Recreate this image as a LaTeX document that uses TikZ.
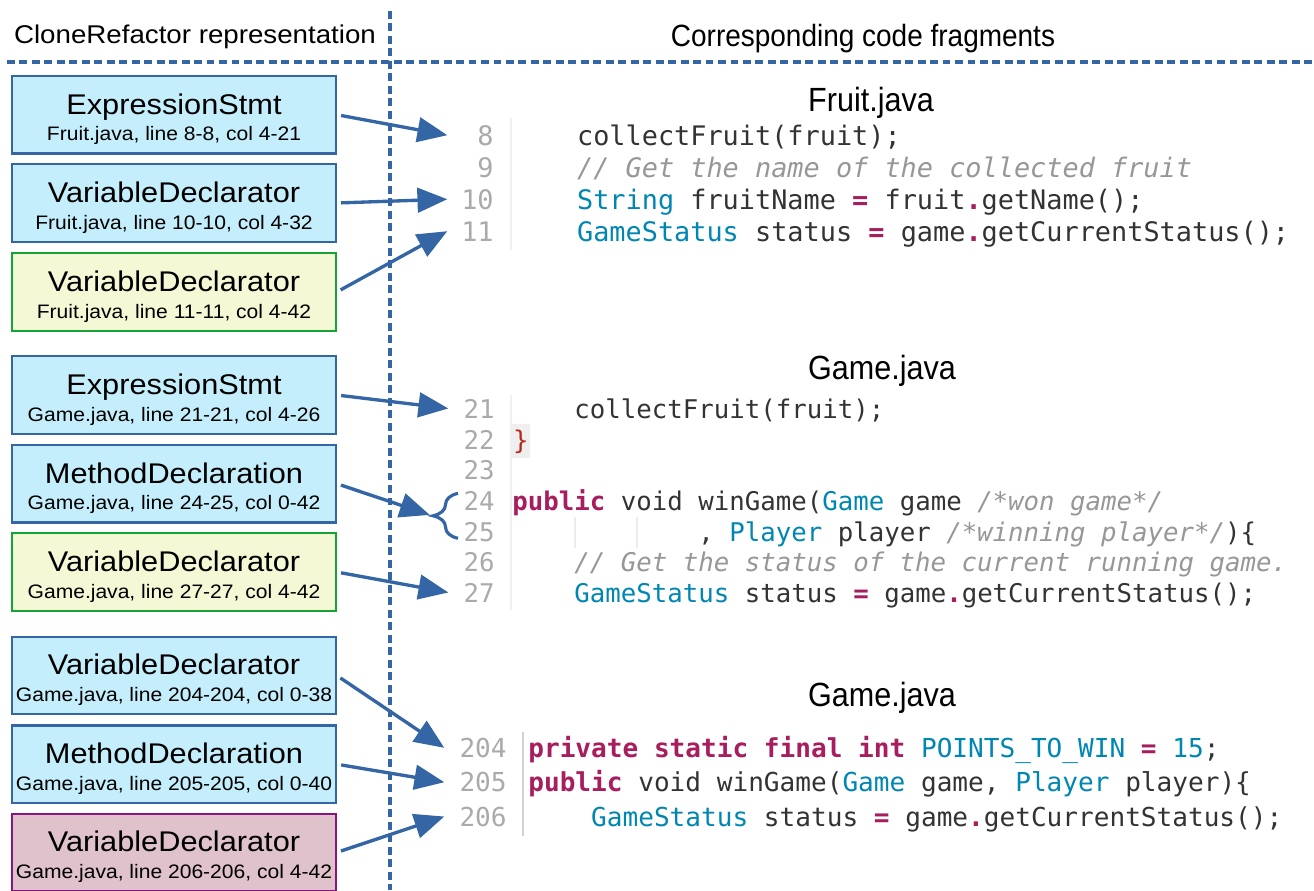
\documentclass[tikz,border=0pt]{standalone}
\usepackage{fontspec}
\setmainfont{Liberation Sans}
\newfontfamily\leftfont[FakeStretch=1.08]{Liberation Sans}
\newfontfamily\rightfont[FakeStretch=0.91]{Liberation Sans}
\newfontfamily\codefont{DejaVu Sans Mono}
\usepackage{xcolor}
\usepackage{tikz}
\usetikzlibrary{arrows.meta, decorations.pathreplacing}

\definecolor{linkblue}{HTML}{3465A4}
\definecolor{astfill}{HTML}{C4EEFB}
\definecolor{clonegreen}{HTML}{16A534}
\definecolor{clonefill}{HTML}{F5F8D5}
\definecolor{diffpurple}{HTML}{87157F}
\definecolor{difffill}{HTML}{E0C2CD}
\definecolor{kwcol}{HTML}{A71D5D}
\definecolor{tycol}{HTML}{0086B3}
\definecolor{cmtcol}{HTML}{969896}
\definecolor{codetext}{HTML}{333333}
\definecolor{lncol}{HTML}{AAAAAA}
\definecolor{bracered}{HTML}{B52A1D}
\definecolor{bracebg}{HTML}{EFEFEF}

% syntax colouring for the code fragments
\newcommand\kw[1]{\textcolor{kwcol}{\bfseries #1}}
\newcommand\ty[1]{\textcolor{tycol}{#1}}
\newcommand\op[1]{\textcolor{kwcol}{\bfseries #1}}
\newcommand\cmt[1]{\textcolor{cmtcol}{\itshape #1}}
\newcommand\pad[1]{\hspace*{#1\fontcharwd\font`\0}}
\newcommand\asttitle[1]{\rule{0pt}{16.7pt}{\fontsize{16.2pt}{15.2pt}\selectfont #1}}
\frenchspacing

\begin{document}
\begin{tikzpicture}[x=0.02cm, y=-0.02cm,
  astbox/.style={draw=linkblue, fill=astfill, line width=1.2pt, minimum width=6.47cm, minimum height=1.55cm, inner sep=0pt, align=center, font=\leftfont\fontsize{11.1pt}{15.2pt}\selectfont},
  clonebox/.style={astbox, draw=clonegreen, fill=clonefill},
  diffbox/.style={astbox, draw=diffpurple, fill=difffill},
  lnum/.style={anchor=base east, inner sep=0pt, text width=#1, align=right, text=lncol},
  lnum/.default=0.92cm,
  code/.style={anchor=base west, inner sep=0pt, text=codetext},
  fsize/.style={font=\codefont\fontsize{#1}{#1}\selectfont},
  filename/.style={anchor=base, font=\rightfont\fontsize{19.1pt}{20pt}\selectfont},
  arr/.style={-{Triangle[length=17pt, width=14pt]}, line width=1.9pt, linkblue, shorten <=2.5pt},
  spanbrace/.style={decorate, decoration={brace, amplitude=14.2pt}, line width=1.8pt, linkblue},
  divider/.style={linkblue, line width=1.9pt, dash pattern=on 4.5pt off 2.6pt},
  gutter/.style={line width=0.6pt, #1}
]
  \useasboundingbox (0,0) rectangle (1314,890);

  % Column headers and dividers
  \node[anchor=base, font=\leftfont\fontsize{14.6pt}{16pt}\selectfont] (lhead) at (195,43.5) {CloneRefactor representation};
  \node[anchor=base, font=\rightfont\fontsize{17.5pt}{19pt}\selectfont] (rhead) at (863,46) {Corresponding code fragments};
  \draw[divider] (7,62) -- (1314,62);
  \draw[divider] (390,11) -- (390,890);

  % AST nodes
  \node[astbox] (a1) at (174,114.7) {\asttitle{ExpressionStmt}\\Fruit.java, line 8-8, col 4-21};
  \node[astbox] (a2) at (174,203) {\asttitle{VariableDeclarator}\\Fruit.java, line 10-10, col 4-32};
  \node[clonebox] (a3) at (174,292) {\asttitle{VariableDeclarator}\\Fruit.java, line 11-11, col 4-42};
  \node[astbox] (a4) at (174,395) {\asttitle{ExpressionStmt}\\Game.java, line 21-21, col 4-26};
  \node[astbox] (a5) at (174,483.7) {\asttitle{MethodDeclaration}\\Game.java, line 24-25, col 0-42};
  \node[clonebox] (a6) at (174,572) {\asttitle{VariableDeclarator}\\Game.java, line 27-27, col 4-42};
  \node[astbox] (a7) at (174,675.5) {\asttitle{VariableDeclarator}\\Game.java, line 204-204, col 0-38};
  \node[astbox] (a8) at (174,764.2) {\asttitle{MethodDeclaration}\\Game.java, line 205-205, col 0-40};
  \node[diffbox] (a9) at (174,852.4) {\asttitle{VariableDeclarator}\\Game.java, line 206-206, col 4-42};

  % Fruit.java, lines 8-11
  \node[filename] (fruit) at (871,111) {Fruit.java};
  \draw[gutter=gray!12] (511,118) -- (511,250);
  \begin{scope}[fsize=15.3pt]
    \foreach \n/\y in {8/145, 9/177, 10/209, 11/241}
      \node[lnum] (fn\n) at (494,\y) {\n};
    \node[code] (fc8) at (512,145) {\pad{4}collectFruit(fruit);};
    \node[code] (fc9) at (512,177) {\pad{4}\cmt{// Get the name of the collected fruit}};
    \node[code] (fc10) at (512,209) {\pad{4}\ty{String} fruitName \op{=} fruit\op{.}getName();};
    \node[code] (fc11) at (512,241) {\pad{4}\ty{GameStatus} status \op{=} game\op{.}getCurrentStatus();};
  \end{scope}

  % Game.java, lines 21-27
  \node[filename] (game1) at (882,379) {Game.java};
  \draw[gutter=gray!12] (511,395) -- (511,610);
  \foreach \x in {575,637}
    \draw[gutter=gray!15] (\x,517) -- (\x,548);
  \begin{scope}[fsize=14.65pt]
    \foreach \n/\y in {21/418, 22/449, 23/479.5, 24/510, 25/541, 26/571.5, 27/602}
      \node[lnum] (gn\n) at (495,\y) {\n};
    \node[code] (gc21) at (512,418) {\pad{4}collectFruit(fruit);};
    \node[code, fill=bracebg, text=bracered, inner xsep=1pt, inner ysep=3pt] (gc22) at (511,449) {\}};
    \node[code] (gc24) at (512,510) {\kw{public} void winGame(\ty{Game} game \cmt{/*won game*/}};
    \node[code] (gc25) at (512,541) {\pad{12}, \ty{Player} player \cmt{/*winning player*/})\{};
    \node[code] (gc26) at (512,571.5) {\pad{4}\cmt{// Get the status of the current running game.}};
    \node[code] (gc27) at (512,602) {\pad{4}\ty{GameStatus} status \op{=} game\op{.}getCurrentStatus();};
  \end{scope}
  \draw[spanbrace] (458,538.3) -- (458,493.3);
  \coordinate (bt) at (433,516);

  % Game.java, lines 204-206
  \node[filename] (game2) at (882,706) {Game.java};
  \draw[gutter=gray!35] (523,732) -- (523,836);
  \begin{scope}[fsize=14.85pt]
    \foreach \n/\y in {204/757.3, 205/791.7, 206/826}
      \node[lnum=1.24cm] (hn\n) at (507,\y) {\n};
    \node[code] (hc204) at (528,757.3) {\kw{private static final int} \ty{POINTS\_TO\_WIN} \op{=} \ty{15};};
    \node[code] (hc205) at (528,791.7) {\kw{public} void winGame(\ty{Game} game, \ty{Player} player)\{};
    \node[code] (hc206) at (528,826) {\pad{4}\ty{GameStatus} status \op{=} game\op{.}getCurrentStatus();};
  \end{scope}

  % Connections
  \foreach \from/\to in {a1/fn8, a2/fn10, a3/fn11, a4/gn21, a6/gn27, a7/hn204, a8/hn205, a9/hn206}
    \draw[arr] (\from.east) -- (\to.west);
  \draw[arr, shorten >=2pt] (a5.east) -- (bt);
\end{tikzpicture}
\end{document}
